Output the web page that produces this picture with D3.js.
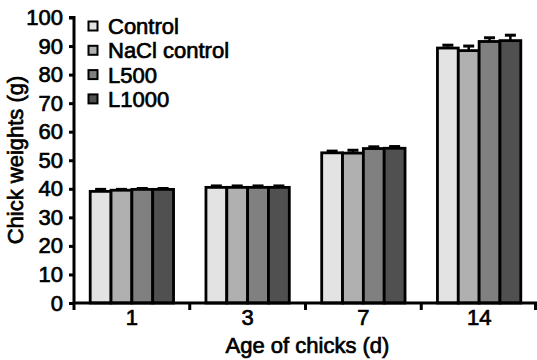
<!DOCTYPE html>
<html><head><meta charset="utf-8">
<script src="https://cdn.jsdelivr.net/npm/d3@7"></script>
<style>
html,body{margin:0;padding:0;background:#fff;}
svg text{font-family:"Liberation Sans",Arial,sans-serif;fill:#000;}
</style></head>
<body><svg id="c" width="537" height="360"></svg>
<script>
const categories = ["1","3","7","14"];
const series = ["Control","NaCl control","L500","L1000"];
const colors = ["#e3e3e3","#b0b0b0","#808080","#505050"];
const control = [39.1, 40.5, 52.6, 89.3];
const naclControl = [39.5, 40.5, 52.5, 88.4];
const l500 = [39.8, 40.5, 54.1, 91.6];
const l1000 = [39.8, 40.5, 54.2, 91.9];
const controlErr = [0.7, 0.5, 0.6, 1.0];
const naclErr = [0.3, 0.5, 1.0, 1.6];
const l500Err = [0.3, 0.5, 0.6, 1.3];
const l1000Err = [0.3, 0.5, 0.6, 1.9];
const yTicks = [0,10,20,30,40,50,60,70,80,90,100];

const values = [control, naclControl, l500, l1000];
const errs = [controlErr, naclErr, l500Err, l1000Err];

const svg = d3.select("#c");
const x0 = 74, x1r = 537, yTop = 17.5, yBot = 303;
const x = d3.scaleBand().domain(categories).range([x0, x1r]).padding(0);
const step = x.step();
const xs = d3.scaleBand().domain(series).range([step*0.14, step*0.86]).padding(0);
const y = d3.scaleLinear().domain([0,100]).range([yBot, yTop]);

const fs = 22, sw = 0.7;
// bars
const g = svg.append("g");
categories.forEach((c, ci) => {
  series.forEach((s, si) => {
    const v = values[si][ci], e = errs[si][ci];
    const bx = x(c) + xs(s), bw = xs.bandwidth();
    const cx = bx + bw/2;
    g.append("line").attr("x1", cx).attr("x2", cx).attr("y1", y(v)).attr("y2", y(v+e))
      .attr("stroke","#000").attr("stroke-width",2.5);
    g.append("line").attr("x1", cx-5.5).attr("x2", cx+5.5).attr("y1", y(v+e)).attr("y2", y(v+e))
      .attr("stroke","#000").attr("stroke-width",3);
    g.append("rect").attr("x", bx).attr("y", y(v)).attr("width", bw).attr("height", yBot - y(v))
      .attr("fill", colors[si]).attr("stroke","#000").attr("stroke-width",2.8);
  });
});

// y axis
const ya = svg.append("g").attr("transform",`translate(${x0},0)`)
  .call(d3.axisLeft(y).tickValues(yTicks).tickSize(5).tickPadding(6));
ya.select(".domain").attr("stroke","#000").attr("stroke-width",3).attr("d",`M-5,${yTop}H0V${yBot}`);
ya.selectAll(".tick line").attr("stroke","#000").attr("stroke-width",3);
ya.selectAll(".tick text").attr("font-size",fs).attr("fill","#000")
  .attr("stroke","#000").attr("stroke-width",sw).attr("font-family","Liberation Sans, Arial, sans-serif");

// x axis
const boundaries = [x0].concat(categories.map(c => x(c) + step));
const xa = svg.append("g").attr("transform",`translate(0,${yBot})`)
  .call(d3.axisBottom(x).tickSize(0).tickPadding(6));
xa.select(".domain").attr("stroke","#000").attr("stroke-width",3).attr("d",`M${x0},0H${x1r}`);
xa.selectAll(".tick text").attr("font-size",fs).attr("fill","#000")
  .attr("stroke","#000").attr("stroke-width",sw).attr("font-family","Liberation Sans, Arial, sans-serif");
xa.selectAll(".bt").data(boundaries).enter().append("line")
  .attr("x1",d=>Math.min(d,x1r-1.5)).attr("x2",d=>Math.min(d,x1r-1.5)).attr("y1",0).attr("y2",7)
  .attr("stroke","#000").attr("stroke-width",3);

// axis titles
svg.append("text").attr("x", (x0+x1r)/2 + 2).attr("y", 353).attr("text-anchor","middle")
  .attr("font-size",fs).attr("stroke","#000").attr("stroke-width",sw).text("Age of chicks (d)");
svg.append("text").attr("transform","translate(23,160) rotate(-90)").attr("text-anchor","middle")
  .attr("font-size",fs).attr("stroke","#000").attr("stroke-width",sw).text("Chick weights (g)");

// legend
const lg = svg.append("g");
series.forEach((s, i) => {
  const ly = 26 + i*24.3;
  lg.append("rect").attr("x", 88.5).attr("y", ly-4.5).attr("width", 9).attr("height", 9)
    .attr("fill", colors[i]).attr("stroke","#000").attr("stroke-width",2);
  lg.append("text").attr("x", 108).attr("y", ly+8).attr("font-size",fs)
    .attr("stroke","#000").attr("stroke-width",sw).text(s);
});
</script></body></html>
